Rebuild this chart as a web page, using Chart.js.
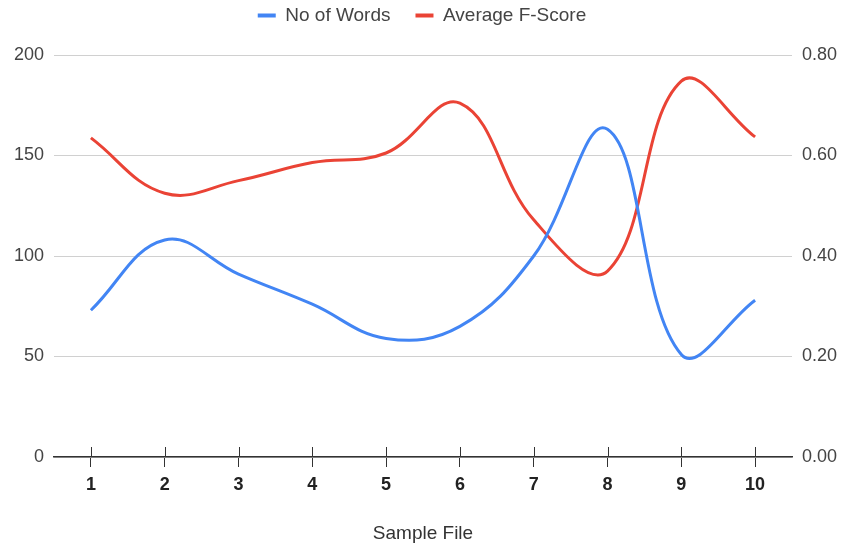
<!DOCTYPE html>
<html>
<head>
<meta charset="utf-8">
<script src="https://cdn.jsdelivr.net/npm/chart.js@4.4.1/dist/chart.umd.min.js"></script>
<style>
  html, body { margin: 0; padding: 0; background: #fff; }
  #wrap { width: 844px; height: 548px; position: relative; }
</style>
</head>
<body>
<div id="wrap"><canvas id="chart"></canvas></div>
<script>
// Sample files on the x axis
const sampleFiles = ['1', '2', '3', '4', '5', '6', '7', '8', '9', '10'];
// Word count per sample file (left axis)
const wordCounts = [73, 108, 91, 76, 59, 65, 100, 163, 51, 78];
// Average F-score per sample file (right axis)
const avgFScores = [0.635, 0.525, 0.55, 0.586, 0.605, 0.704, 0.472, 0.37, 0.748, 0.637];
// Axis tick values
const wordTicks = [0, 50, 100, 150, 200];
const scoreTicks = [0, 0.2, 0.4, 0.6, 0.8];

const FONT = "'Liberation Sans', Arial, sans-serif";
const BLUE = '#4285F4';
const RED = '#EA4335';

// Lift the legend into the top margin, above the plot
const legendLift = {
  id: 'legendLift',
  afterLayout(chart) {
    const lg = chart.legend;
    if (lg) { lg.top -= 20; lg.bottom -= 20; }
  }
};

// Short upward tick marks where categories meet the base line
const baseTicks = {
  id: 'baseTicks',
  afterDatasetsDraw(chart) {
    const xs = chart.scales.x;
    const ctx = chart.ctx;
    const b = chart.chartArea.bottom;
    ctx.save();
    ctx.strokeStyle = '#333';
    ctx.lineWidth = 1;
    xs.ticks.forEach((t, i) => {
      const px = Math.round(xs.getPixelForTick(i)) + 0.5;
      ctx.beginPath();
      ctx.moveTo(px, b - 10);
      ctx.lineTo(px, b);
      ctx.stroke();
    });
    ctx.restore();
  }
};

new Chart(document.getElementById('chart'), {
  type: 'line',
  data: {
    labels: sampleFiles,
    datasets: [
      {
        label: 'No of Words',
        data: wordCounts,
        yAxisID: 'yWords',
        borderColor: BLUE,
        backgroundColor: BLUE,
        borderWidth: 3,
        pointRadius: 0,
        tension: 0.4,
        fill: false
      },
      {
        label: 'Average F-Score',
        data: avgFScores,
        yAxisID: 'yScore',
        borderColor: RED,
        backgroundColor: RED,
        borderWidth: 3,
        pointRadius: 0,
        tension: 0.4,
        fill: false
      }
    ]
  },
  options: {
    responsive: true,
    maintainAspectRatio: false,
    devicePixelRatio: 1,
    animation: false,
    layout: { padding: { top: 1, left: 0, right: 0, bottom: 0 } },
    plugins: {
      tooltip: { enabled: false },
      legend: {
        position: 'top',
        align: 'center',
        labels: {
          font: { family: FONT, size: 19 },
          color: '#444',
          boxWidth: 18,
          boxHeight: 4,
          padding: 25,
          generateLabels(chart) {
            const items = Chart.defaults.plugins.legend.labels.generateLabels(chart);
            items.forEach(it => { it.fillStyle = it.strokeStyle; it.lineWidth = 0; });
            return items;
          }
        }
      }
    },
    scales: {
      x: {
        type: 'category',
        offset: true,
        grid: {
          display: true,
          offset: false,
          drawOnChartArea: false,
          drawTicks: true,
          tickLength: 10,
          tickColor: '#333',
          tickWidth: 1
        },
        border: { display: true, color: '#333', width: 1.5 },
        ticks: {
          font: { family: FONT, size: 18, weight: 'bold' },
          color: '#222',
          padding: 7,
          maxRotation: 0
        },
        title: {
          display: true,
          text: 'Sample File',
          font: { family: FONT, size: 19 },
          color: '#333',
          padding: { top: 4, bottom: 3 }
        },
        afterFit(scale) { scale.height = 91; }
      },
      yWords: {
        type: 'linear',
        position: 'left',
        min: wordTicks[0],
        max: wordTicks[wordTicks.length - 1],
        grid: { color: '#d0d0d0', lineWidth: 1, drawTicks: false },
        border: { display: false },
        ticks: {
          stepSize: wordTicks[1] - wordTicks[0],
          font: { family: FONT, size: 18 },
          color: '#444',
          padding: 10
        },
        afterFit(scale) { scale.width = 54; }
      },
      yScore: {
        type: 'linear',
        position: 'right',
        min: scoreTicks[0],
        max: scoreTicks[scoreTicks.length - 1],
        grid: { display: false, drawTicks: false },
        border: { display: false },
        ticks: {
          stepSize: scoreTicks[1] - scoreTicks[0],
          font: { family: FONT, size: 18 },
          color: '#444',
          padding: 10,
          callback: v => Number(v).toFixed(2)
        },
        afterFit(scale) { scale.width = 52; }
      }
    }
  },
  plugins: [legendLift, baseTicks]
});
</script>
</body>
</html>
